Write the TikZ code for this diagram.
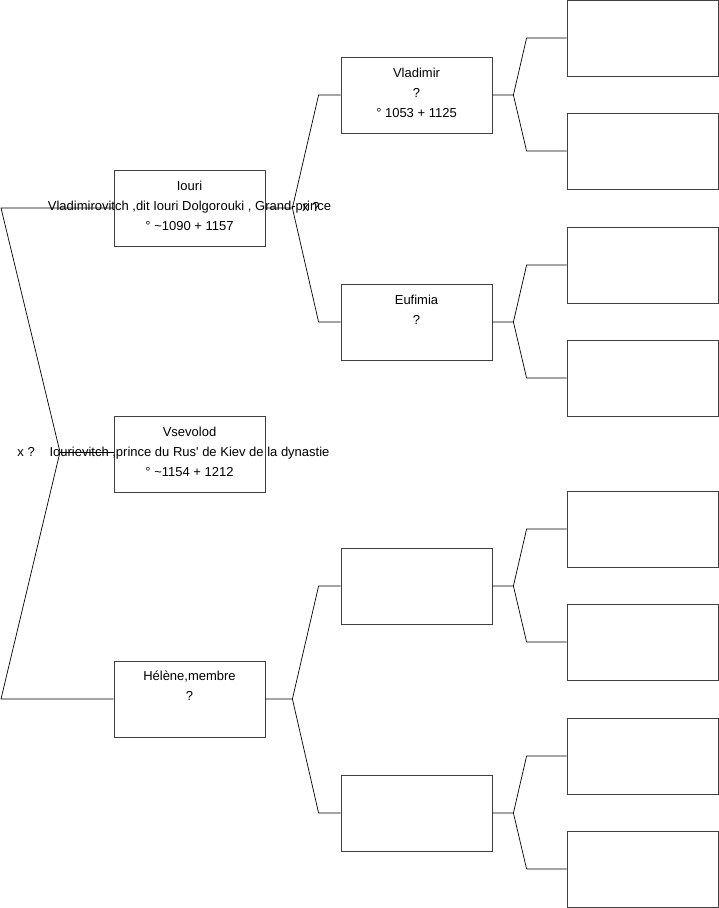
\documentclass[tikz,border=0pt]{standalone}
\usepackage{fontspec}
\setmainfont{Liberation Sans}
\usetikzlibrary{positioning}

\tikzset{
  person/.style={draw=black!75, line width=0.8pt, minimum width=151pt,
    minimum height=76pt, inner sep=0pt},
  who/.style={font=\fontsize{13}{20}\selectfont, align=center, inner sep=0pt,
    anchor=north},
  spouse/.style={font=\fontsize{13}{20}\selectfont, inner sep=0pt},
  link/.style={line width=0.7pt}
}

\begin{document}
\begin{tikzpicture}[x=1pt, y=-1pt]
  \useasboundingbox (0,0) rectangle (719,908);

  % Generation 1
  \node[person] (iouri)    at (189.5,208) {};
  \node[person] (vsevolod) at (189.5,454) {};
  \node[person] (helene)   at (189.5,699) {};

  % Generation 2
  \node[person] (vladimir) at (416.5,95)  {};
  \node[person] (eufimia)  at (416.5,322) {};
  \node[person] (p3)       at (416.5,586) {};
  \node[person] (p4)       at (416.5,813) {};

  % Generation 3 (empty boxes)
  \foreach \y [count=\i] in {38,151,265,378,529,642,756,869}
    \node[person] (g\i) at (642.5,\y) {};

  % Texts
  \node[who] (iouri-t) at ([yshift=-11pt]iouri.north)
    {Iouri\\Vladimirovitch ,dit Iouri Dolgorouki , Grand-prince\\° \textasciitilde1090 + 1157};
  \node[who] (vsevolod-t) at ([yshift=-11pt]vsevolod.north)
    {Vsevolod\\Iourievitch ,prince du Rus\textquotesingle{} de Kiev de la dynastie\\° \textasciitilde1154 + 1212};
  \node[who] (helene-t) at ([yshift=-10pt]helene.north) {Hélène,membre\\?};
  \node[who] (vladimir-t) at ([yshift=-11pt]vladimir.north) {Vladimir\\?\\° 1053 + 1125};
  \node[who] (eufimia-t) at ([yshift=-11pt]eufimia.north) {Eufimia\\?};

  % Root bracket
  \coordinate (root) at (60,452);
  \node[spouse, left=25pt of root] (x0) {x ?};
  \draw[link] (iouri.west) -- (iouri.west -| 1,0) -- (root)
    -- (helene.west -| 1,0) -- (helene.west);
  \draw[link] (root) -- (vsevolod.west |- root);

  % Brackets generation 1 -> 2
  \draw[link] (iouri.east) -- ++(27,0) coordinate (fi)
    -- ([xshift=-22pt]vladimir.west) -- (vladimir.west);
  \draw[link] (fi) -- ([xshift=-22pt]eufimia.west) -- (eufimia.west);
  \node[spouse] (x1) at (311,207) {x ?};

  \draw[link] (helene.east) -- ++(27,0) coordinate (fh)
    -- ([xshift=-22pt]p3.west) -- (p3.west);
  \draw[link] (fh) -- ([xshift=-22pt]p4.west) -- (p4.west);

  % Brackets generation 2 -> 3
  \draw[link] (vladimir.east) -- ++(21,0) coordinate (fv)
    -- ([xshift=-40pt]g1.west) -- (g1.west);
  \draw[link] (fv) -- ([xshift=-40pt]g2.west) -- (g2.west);
  \draw[link] (eufimia.east) -- ++(21,0) coordinate (fe)
    -- ([xshift=-40pt]g3.west) -- (g3.west);
  \draw[link] (fe) -- ([xshift=-40pt]g4.west) -- (g4.west);
  \draw[link] (p3.east) -- ++(21,0) coordinate (f3)
    -- ([xshift=-40pt]g5.west) -- (g5.west);
  \draw[link] (f3) -- ([xshift=-40pt]g6.west) -- (g6.west);
  \draw[link] (p4.east) -- ++(21,0) coordinate (f4)
    -- ([xshift=-40pt]g7.west) -- (g7.west);
  \draw[link] (f4) -- ([xshift=-40pt]g8.west) -- (g8.west);
\end{tikzpicture}
\end{document}
